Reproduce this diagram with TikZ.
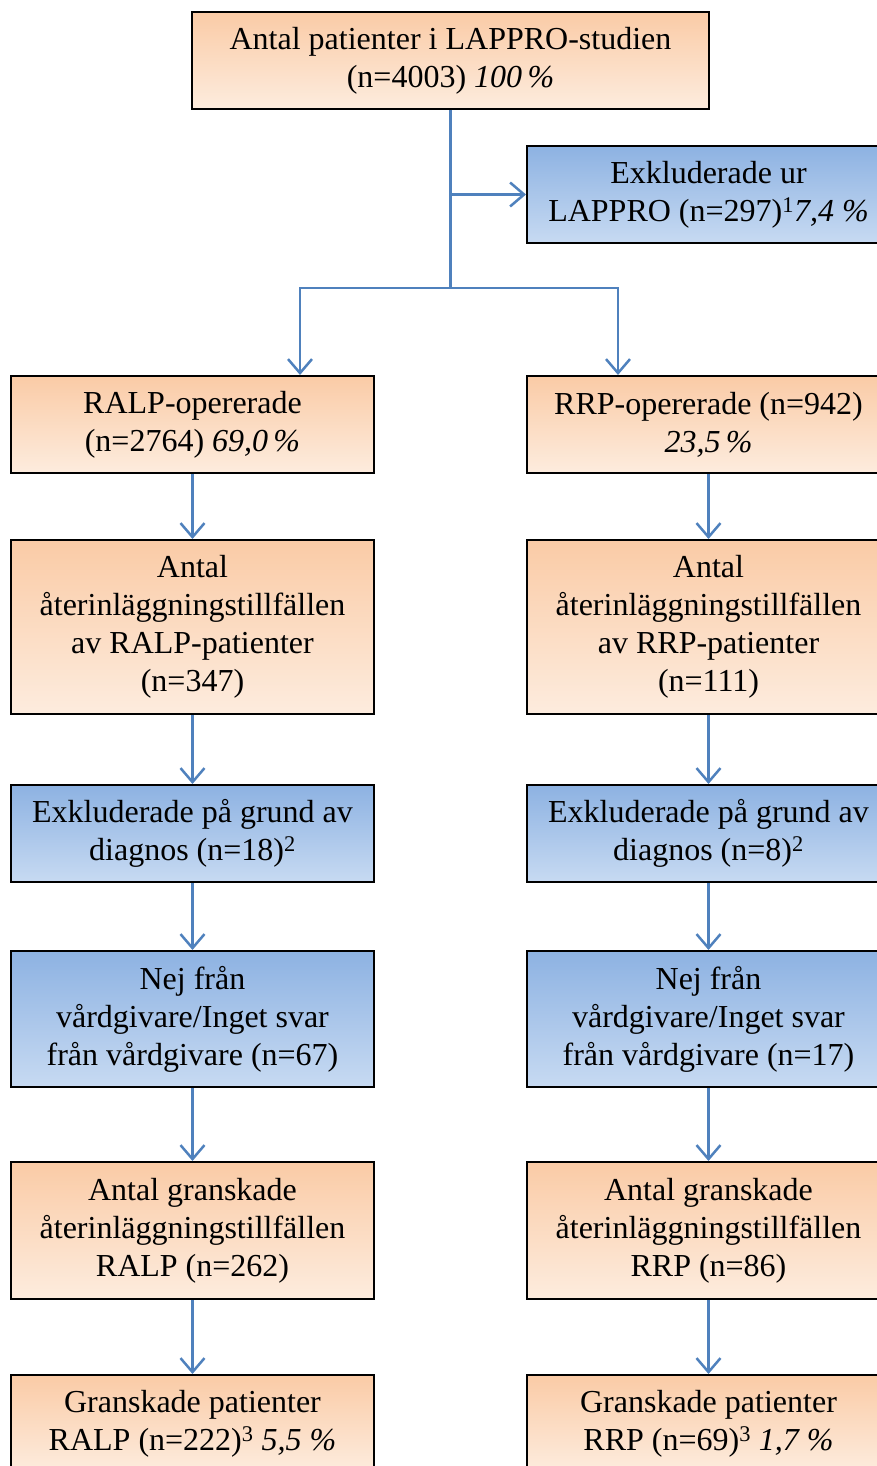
\documentclass[tikz,border=0pt]{standalone}
\usepackage{fontspec}
\setmainfont{Liberation Serif}
\usetikzlibrary{arrows.meta}

\definecolor{peachtop}{RGB}{250,203,166}
\definecolor{peachbot}{RGB}{253,236,222}
\definecolor{skytop}{RGB}{141,178,226}
\definecolor{skybot}{RGB}{199,218,242}
\definecolor{flowline}{RGB}{79,129,189}

\tikzset{
  box/.style={draw=black, line width=2pt, align=center, inner sep=0pt,
    minimum width=363pt, font=\fontsize{32}{38}\selectfont},
  peachbox/.style={box, top color=peachtop, bottom color=peachbot},
  exclbox/.style={box, top color=skytop, bottom color=skybot},
  flow/.style={draw=flowline, line width=2.5pt},
  flowarrow/.style={flow, -{Straight Barb[length=14pt,width=24pt]}}
}

\begin{document}
\begin{tikzpicture}[x=1pt, y=-1pt]

    \useasboundingbox (0,0) rectangle (877,1466);

    \node[peachbox, minimum width=517pt, minimum height=97pt] (total) at (450.5,60.5)
      {Antal patienter i LAPPRO-studien\\(n=4003) \textit{100\,\%}};
    \node[exclbox, minimum height=97pt] (exlappro) at (708.5,194.5)
      {Exkluderade ur\\LAPPRO (n=297)\textsuperscript{1}\textit{7,4 \%}};

    % RALP column
    \node[peachbox, minimum height=97pt] (ralp) at (192.5,424.5)
      {RALP-opererade\\(n=2764) \textit{69,0\,\%}};
    \node[peachbox, minimum height=174pt] (ralpre) at (192.5,627)
      {Antal\\återinläggningstillfällen\\av RALP-patienter\\(n=347)};
    \node[exclbox, minimum height=97pt] (ralpdiag) at (192.5,833.5)
      {Exkluderade på grund av\\diagnos (n=18)\textsuperscript{2}};
    \node[exclbox, minimum height=136pt] (ralpnej) at (192.5,1019)
      {Nej från\\vårdgivare/Inget svar\\från vårdgivare (n=67)};
    \node[peachbox, minimum height=137pt] (ralpgr) at (192.5,1230.5)
      {Antal granskade\\återinläggningstillfällen\\RALP (n=262)};
    \node[peachbox, minimum height=97pt] (ralppat) at (192.5,1423.5)
      {Granskade patienter\\RALP (n=222)\textsuperscript{3} \textit{5,5 \%}};

    % RRP column
    \node[peachbox, minimum height=97pt] (rrp) at (708.5,424.5)
      {RRP-opererade (n=942)\\\textit{23,5\,\%}};
    \node[peachbox, minimum height=174pt] (rrpre) at (708.5,627)
      {Antal\\återinläggningstillfällen\\av RRP-patienter\\(n=111)};
    \node[exclbox, minimum height=97pt] (rrpdiag) at (708.5,833.5)
      {Exkluderade på grund av\\diagnos (n=8)\textsuperscript{2}};
    \node[exclbox, minimum height=136pt] (rrpnej) at (708.5,1019)
      {Nej från\\vårdgivare/Inget svar\\från vårdgivare (n=17)};
    \node[peachbox, minimum height=137pt] (rrpgr) at (708.5,1230.5)
      {Antal granskade\\återinläggningstillfällen\\RRP (n=86)};
    \node[peachbox, minimum height=97pt] (rrppat) at (708.5,1423.5)
      {Granskade patienter\\RRP (n=69)\textsuperscript{3} \textit{1,7 \%}};

    % connectors
    \coordinate (split) at (450.5,288);
    \draw[flow] (total.south) -- (split);
    \draw[flowarrow] (total.south |- exlappro.west) -- (exlappro.west);
    \draw[flowarrow] (split) -| ([xshift=107.5pt]ralp.north);
    \draw[flowarrow] (split) -| ([xshift=-90.5pt]rrp.north);

    \draw[flowarrow] (ralp) -- (ralpre);
    \draw[flowarrow] (ralpre) -- (ralpdiag);
    \draw[flowarrow] (ralpdiag) -- (ralpnej);
    \draw[flowarrow] (ralpnej) -- (ralpgr);
    \draw[flowarrow] (ralpgr) -- (ralppat);

    \draw[flowarrow] (rrp) -- (rrpre);
    \draw[flowarrow] (rrpre) -- (rrpdiag);
    \draw[flowarrow] (rrpdiag) -- (rrpnej);
    \draw[flowarrow] (rrpnej) -- (rrpgr);
    \draw[flowarrow] (rrpgr) -- (rrppat);

\end{tikzpicture}
\end{document}
